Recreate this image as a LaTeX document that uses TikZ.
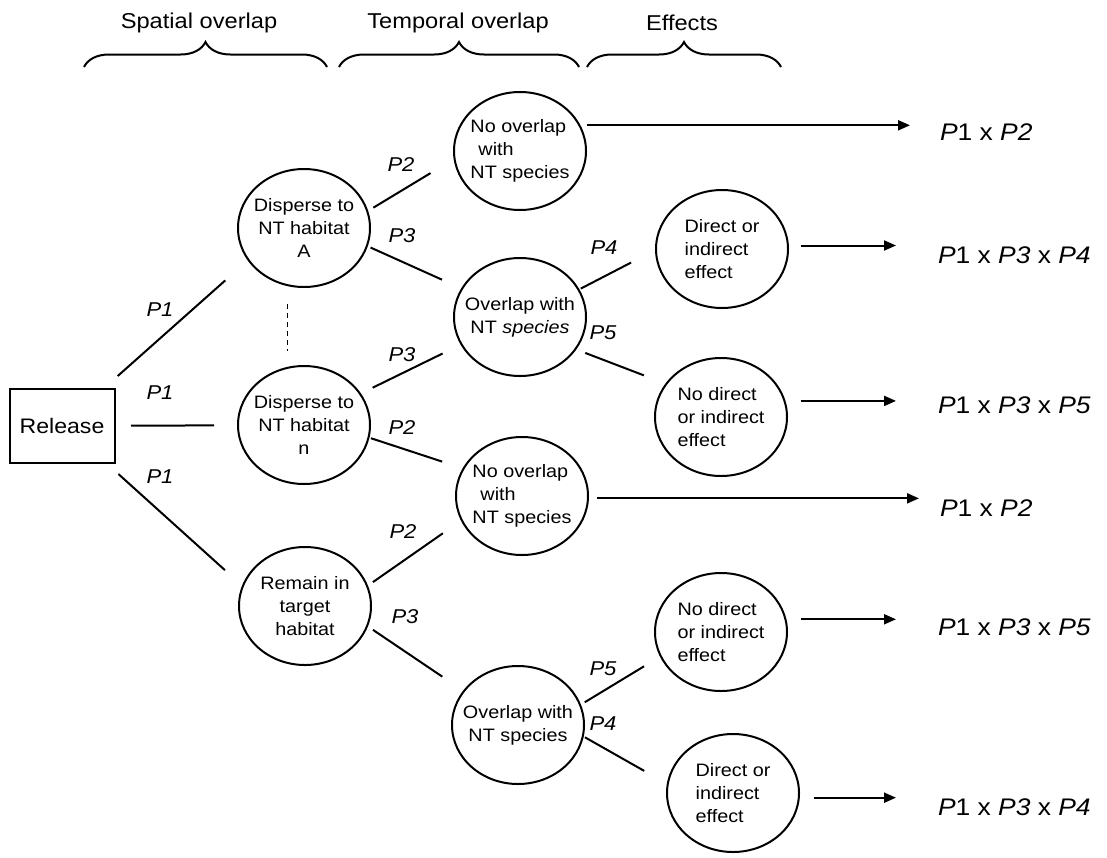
\documentclass[tikz,border=0pt]{standalone}
\usepackage{fontspec}
\setmainfont{Liberation Sans}[FakeStretch=1.1]
\usetikzlibrary{arrows.meta,shapes.geometric,decorations.pathreplacing}

\begin{document}
\begin{tikzpicture}[
	x=1pt, y=-1pt,
	>={Triangle[length=12pt,width=10pt]},
	line width=2pt,
	outcome/.style={
		ellipse,
		draw,
		align=center,
		inner xsep=-9pt,
		inner ysep=0pt,
		minimum width=132pt,
		minimum height=118pt,
		font=\fontsize{18}{23}\selectfont
	},
	effect/.style={outcome, align=left},
	prob/.style={font=\fontsize{20}{24}\selectfont\itshape},
	result/.style={anchor=west, inner sep=0pt, font=\fontsize{24}{28}\selectfont},
	heading/.style={font=\fontsize{21.5}{26}\selectfont},
	grouping/.style={decorate, decoration={brace, amplitude=25pt}}
	]
	\useasboundingbox (0,0) rectangle (1107,857);
	
	\node[heading] (spatial) at (199,23) {Spatial overlap};
	\node[heading] (temporal) at (458,23) {Temporal overlap};
	\node[heading] (effects) at (682,23) {Effects};
	\draw[grouping] (84,67) -- (327,67);
	\draw[grouping] (339,67) -- (579,67);
	\draw[grouping] (587,67) -- (781,67);
	
	\node[draw, minimum width=105pt, minimum height=74pt, inner sep=0pt,
		font=\fontsize{21}{25}\selectfont] (release) at (62,426) {Release};
	
	\node[outcome] (habA) at (304,228) {Disperse to\\NT habitat\\A};
	\node[outcome] (habN) at (304,425) {Disperse to\\NT habitat\\n};
	\node[outcome] (remain) at (305,606) {Remain in\\target\\habitat};
	
	\node[effect] (noovA) at (520,151) {No overlap\\\hspace{8pt}with\\NT species};
	\node[outcome] (ovA) at (520,317) {Overlap with\\NT \textit{species}};
	\node[effect] (noovB) at (522,496) {No overlap\\\hspace{8pt}with\\NT species};
	\node[outcome] (ovB) at (518,725) {Overlap with\\NT species};
	
	\node[effect] (dirA) at (722,249) {Direct or\\indirect\\effect};
	\node[effect] (nodirA) at (721,417) {No direct\\or indirect\\effect};
	\node[effect] (nodirB) at (721,632) {No direct\\or indirect\\effect};
	\node[effect] (dirB) at (733,793) {Direct or\\indirect\\effect};
	
	\node[result] (resA) at (939,132) {\textit{P}1 x \textit{P2}};
	\node[result] (resB) at (937,255) {\textit{P}1 x \textit{P3} x \textit{P4}};
	\node[result] (resC) at (937,405) {\textit{P}1 x \textit{P3} x \textit{P5}};
	\node[result] (resD) at (939,508) {\textit{P}1 x \textit{P2}};
	\node[result] (resE) at (937,627) {\textit{P}1 x \textit{P3} x \textit{P5}};
	\node[result] (resF) at (937,807) {\textit{P}1 x \textit{P3} x \textit{P4}};
	
	\draw[shorten <=18pt, shorten >=30pt] (release.42) -- (habA.210);
	\draw[shorten <=15.5pt, shorten >=23pt] (release) -- (habN);
	\draw[shorten <=15pt, shorten >=23pt] (release.320) -- (remain.162);
	\draw[line width=1.6pt, dash pattern=on 5pt off 4pt, shorten <=18pt, shorten >=16pt] (habA.254) -- (habN.106);
	
	\draw[shorten <=6pt, shorten >=27pt] (habA.15) -- (noovA.187);
	\draw[shorten <=3pt, shorten >=21pt] (habA.344) -- (ovA.154);
	\draw[shorten <=13pt, shorten >=20pt] (habN.29) -- (ovA.205);
	\draw[shorten <=1.5pt, shorten >=21.5pt] (habN.349) -- (noovB.155);
	\draw[shorten <=6pt, shorten >=22pt] (remain.18) -- (noovB.202);
	\draw[shorten <=6pt, shorten >=25pt] (remain.342) -- (ovB.148);
	
	\draw[shorten <=1.5pt, shorten >=27pt] (ovA.25) -- (dirA.181);
	\draw[shorten <=9.6pt, shorten >=23pt] (ovA.330) -- (nodirA.149);
	\draw[shorten <=4.4pt, shorten >=18.6pt] (ovB.18) -- (nodirB.202);
	\draw[shorten <=1.4pt, shorten >=26pt] (ovB.350) -- (dirB.172);
	
	\draw[->, shorten <=6pt, shorten >=29pt] (noovA.23) -- (noovA.23 -| resA.west);
	\draw[->, shorten <=12pt, shorten >=41pt] (dirA.3) -- (dirA.3 -| resB.west);
	\draw[->, shorten <=15pt, shorten >=41pt] (nodirA.14) -- (nodirA.14 -| resC.west);
	\draw[->, shorten <=8pt, shorten >=20pt] (noovB.358) -- (noovB.358 -| resD.west);
	\draw[->, shorten <=15pt, shorten >=41pt] (nodirB.11) -- (nodirB.11 -| resE.west);
	\draw[->, shorten <=14pt, shorten >=41pt] (dirB.356) -- (dirB.356 -| resF.west);
	
	\node[prob] (p1a) at (160,310) {P1};
	\node[prob] (p1b) at (160,393) {P1};
	\node[prob] (p1c) at (160,477) {P1};
	\node[prob] (p2a) at (401,165) {P2};
	\node[prob] (p3a) at (402,236) {P3};
	\node[prob] (p3b) at (402,355) {P3};
	\node[prob] (p2b) at (402,428) {P2};
	\node[prob] (p2c) at (403,532) {P2};
	\node[prob] (p3c) at (405,617) {P3};
	\node[prob] (p4a) at (604,248) {P4};
	\node[prob] (p5a) at (603,333) {P5};
	\node[prob] (p5b) at (603,669) {P5};
	\node[prob] (p4b) at (603,724) {P4};
\end{tikzpicture}
\end{document}
